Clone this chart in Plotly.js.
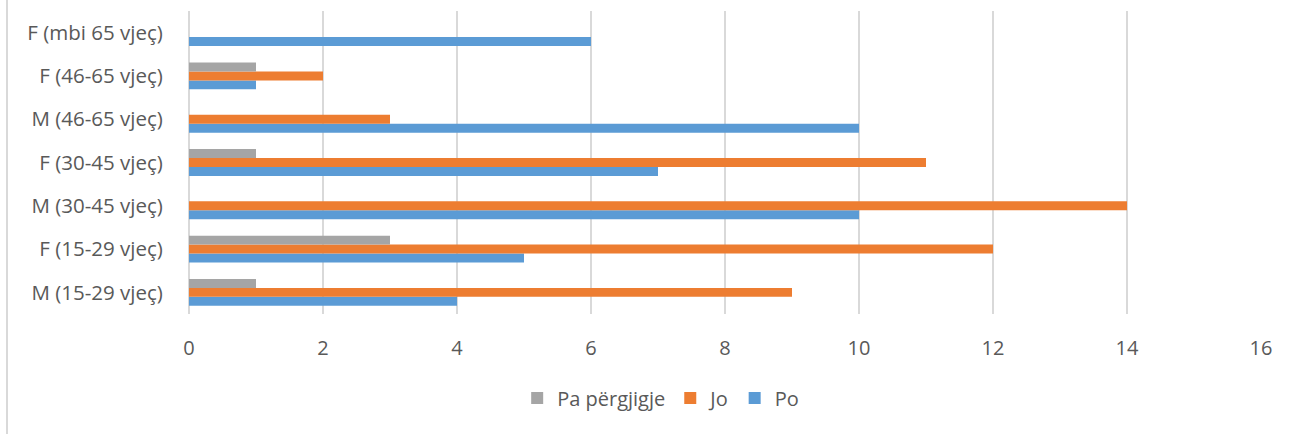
<!DOCTYPE html>
<html>
<head>
<meta charset="utf-8">
<script src="https://cdn.plot.ly/plotly-3.0.1.min.js"></script>
<style>
html,body{margin:0;padding:0;background:#fff;}
#frame{position:absolute;left:0;top:0;width:1302px;height:434px;}
#edge{position:absolute;left:6px;top:0;width:2px;height:434px;background:#d9d9d9;}
#chart{position:absolute;left:0;top:0;width:1302px;height:434px;}
</style>
</head>
<body>
<div id="frame"><div id="chart"></div><div id="edge"></div></div>
<script>
const categories = ["M (15-29 vjeç)", "F (15-29 vjeç)", "M (30-45 vjeç)", "F (30-45 vjeç)", "M (46-65 vjeç)", "F (46-65 vjeç)", "F (mbi 65 vjeç)"];
const po = [4, 5, 10, 7, 10, 1, 6];
const jo = [9, 12, 14, 11, 3, 2, 0];
const paPergjigje = [1, 3, 0, 1, 0, 1, 0];
const xTicks = [0, 2, 4, 6, 8, 10, 12, 14, 16];

const font = "'Open Sans', 'Noto Sans', sans-serif";
const traces = [
  {type:'bar', orientation:'h', name:'Po', y:categories, x:po, marker:{color:'#5B9BD5'}},
  {type:'bar', orientation:'h', name:'Jo', y:categories, x:jo, marker:{color:'#ED7D31'}},
  {type:'bar', orientation:'h', name:'Pa përgjigje', y:categories, x:paPergjigje, marker:{color:'#A5A5A5'}}
];
const layout = {
  width:1302, height:434,
  margin:{l:189, r:41, t:11, b:120},
  barmode:'group', bargap:0.38, bargroupgap:0,
  paper_bgcolor:'#fff', plot_bgcolor:'#fff',
  font:{family:font, size:20, color:'#595959'},
  xaxis:{range:[0,16], tickvals:xTicks, showgrid:true, gridcolor:'#d9d9d9', gridwidth:1.3,
         zeroline:true, zerolinecolor:'#d9d9d9', zerolinewidth:1.3, showline:false,
         ticks:'outside', ticklen:16, tickcolor:'rgba(0,0,0,0)', tickfont:{size:20, color:'#595959'}, fixedrange:true},
  yaxis:{type:'category', categoryorder:'array', categoryarray:categories, showgrid:false, zeroline:false, showline:false,
         ticks:'outside', ticklen:21, tickcolor:'rgba(0,0,0,0)', tickfont:{size:20.5, color:'#595959'}, fixedrange:true},
  showlegend:true,
  legend:{orientation:'h', traceorder:'reversed', x:0.44, xanchor:'center', y:-0.277, yanchor:'middle',
          font:{size:20, color:'#595959'}, itemwidth:30}
};
Plotly.newPlot('chart', traces, layout, {displayModeBar:false, staticPlot:true});
</script>
</body>
</html>
